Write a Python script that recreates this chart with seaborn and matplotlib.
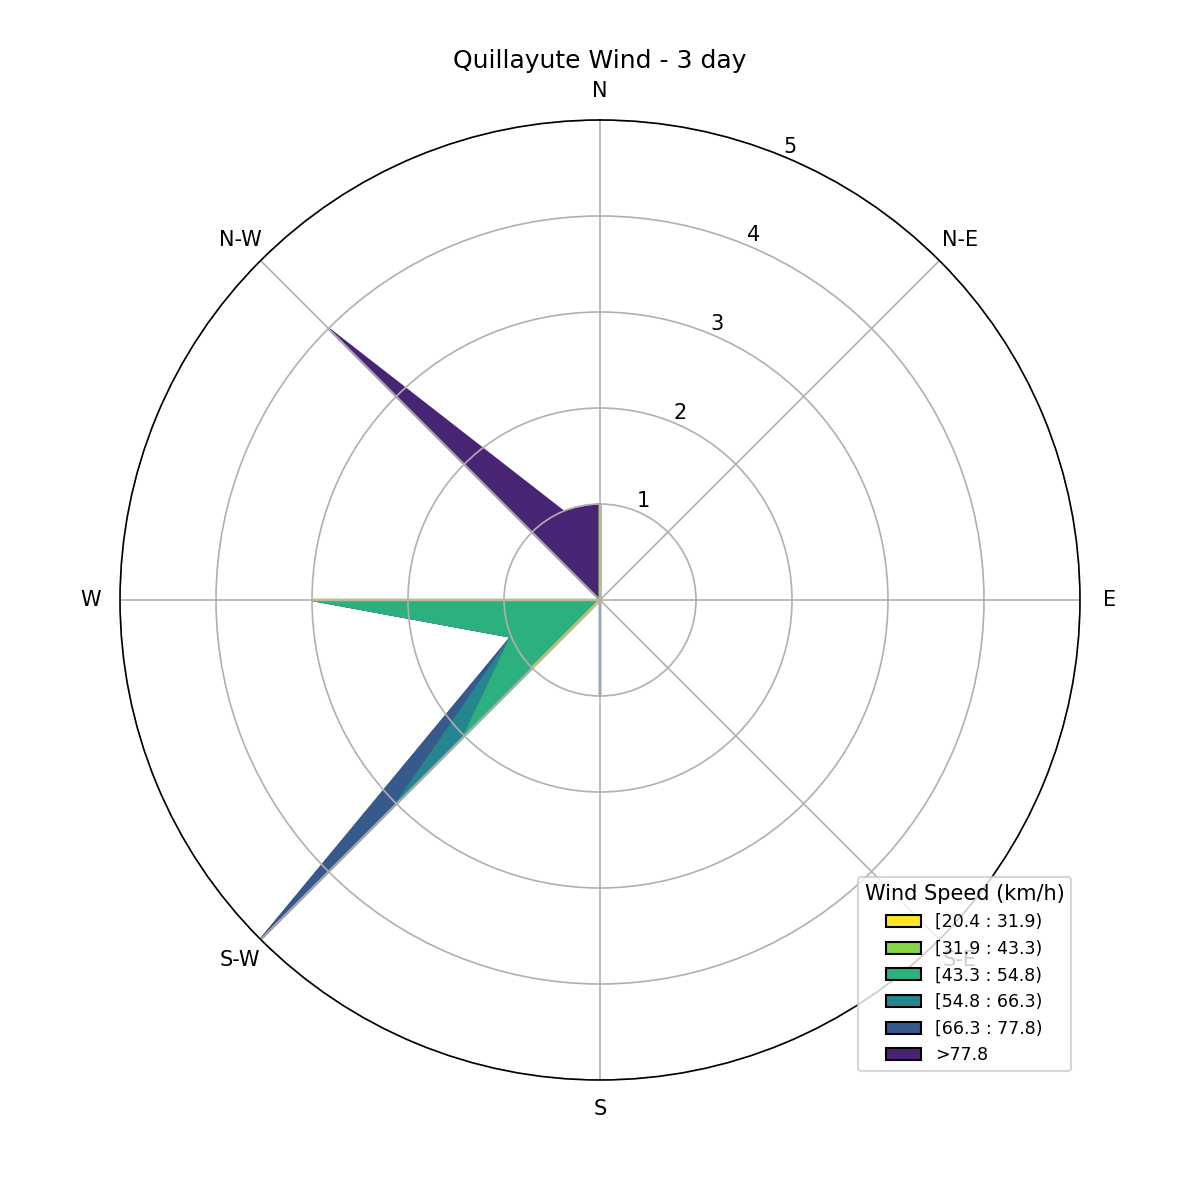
import numpy as np
import matplotlib
matplotlib.use("Agg")
import matplotlib.pyplot as plt
from matplotlib.patches import Patch
import seaborn as sns

# 16 compass sectors, clockwise from north
directions = ["N", "NNE", "NE", "ENE", "E", "ESE", "SE", "SSE",
              "S", "SSW", "SW", "WSW", "W", "WNW", "NW", "NNW"]
sector_deg = np.arange(16) * 22.5

# wind speed classes (km/h)
speed_bins = ["[20.4 : 31.9)", "[31.9 : 43.3)", "[43.3 : 54.8)",
              "[54.8 : 66.3)", "[66.3 : 77.8)", ">77.8"]

# number of observations per sector for each speed class
#            N  .  NE .  E  .  SE .  S  .  SW .  W  .  NW .
bin_20_32 = [1, 0, 0, 0, 0, 0, 0, 0, 0, 0, 1, 0, 3, 0, 0, 0]
bin_32_43 = [0, 0, 0, 0, 0, 0, 0, 0, 0, 0, 0, 0, 0, 0, 0, 0]
bin_43_55 = [0, 0, 0, 0, 0, 0, 0, 0, 0, 0, 1, 1, 0, 0, 0, 0]
bin_55_66 = [0, 0, 0, 0, 0, 0, 0, 0, 1, 0, 1, 0, 0, 0, 0, 0]
bin_66_78 = [0, 0, 0, 0, 0, 0, 0, 0, 0, 0, 2, 0, 0, 0, 0, 0]
bin_78_up = [0, 0, 0, 0, 0, 0, 0, 0, 0, 0, 0, 0, 0, 0, 4, 1]

table = np.array([bin_20_32, bin_32_43, bin_43_55, bin_55_66, bin_66_78, bin_78_up], dtype=float)

compass_labels = ["N", "N-E", "E", "S-E", "S", "S-W", "W", "N-W"]
radii = [1, 2, 3, 4, 5]

# viridis reversed, yellow for the slowest class
cmap = plt.get_cmap("viridis")
colors = sns.color_palette([cmap(v) for v in np.linspace(1.0, 0.1, len(speed_bins))])

fig = plt.figure(figsize=(8, 8), dpi=150)
ax = fig.add_axes([0.1, 0.1, 0.8, 0.8], projection="polar")
ax.set_theta_zero_location("N")
ax.set_theta_direction(-1)

# closed loop of angles, stacked (cumulative) filled contours
theta = np.deg2rad(np.append(sector_deg, sector_deg[0]))
offset = np.zeros(len(directions))
for i in range(len(speed_bins)):
    offset = offset + table[i]
    val = np.append(offset, offset[0])
    xs = np.concatenate([theta, theta[::-1]])
    ys = np.concatenate([val, np.zeros_like(val)])
    ax.fill(xs, ys, facecolor=colors[i], edgecolor=colors[i],
            zorder=1 + (len(speed_bins) - i) * 0.01)

ax.set_ylim(0, table.sum(axis=0).max())
ax.set_rgrids(radii, labels=[str(r) for r in radii], angle=22.5)
ax.set_thetagrids(np.arange(0, 360, 45), labels=compass_labels)
ax.tick_params(labelsize=10)

handles = [Patch(facecolor=c, edgecolor="black") for c in colors]
ax.legend(handles, speed_bins, title="Wind Speed (km/h)", loc="lower right",
          fontsize="small", title_fontsize=10)

ax.set_title("Quillayute Wind - 3 day", fontsize=12)

fig.savefig("out.png", dpi=150)
